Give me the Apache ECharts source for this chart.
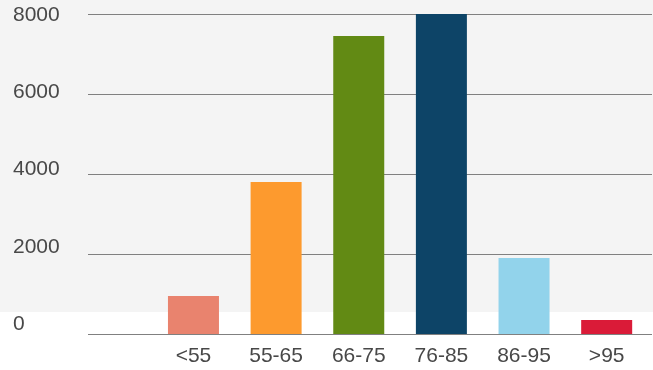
<!DOCTYPE html>
<html>
<head>
<meta charset="utf-8">
<script src="https://cdn.jsdelivr.net/npm/echarts@6/dist/echarts.min.js"></script>
<style>
  html, body { margin: 0; padding: 0; background: #fff; }
  #chart {
    width: 653px; height: 370px;
    background: linear-gradient(#f4f4f4 0, #f4f4f4 312px, #fff 312px, #fff 370px);
  }
</style>
</head>
<body>
<div id="chart"></div>
<script>
var categories = ['', '<55', '55-65', '66-75', '76-85', '86-95', '>95'];
var counts = [null, 950, 3800, 7450, 8000, 1900, 350];
var barColors = ['#ffffff', '#e9836e', '#fd9a2e', '#628a14', '#0d4467', '#92d3eb', '#da1b38'];
var yTicks = [0, 2000, 4000, 6000, 8000];

var chart = echarts.init(document.getElementById('chart'));
var fontFam = '"Liberation Sans", Arial, Helvetica, sans-serif';
var yMin = yTicks[0], yMax = yTicks[yTicks.length - 1];

var option = {
    backgroundColor: 'transparent',
    animation: false,
    grid: [
        // gridlines
        { left: 88, right: 1, top: 14, bottom: 36 },
        // bars, band starts a bit left of the gridlines
        { left: 69.5, right: 5, top: 14, bottom: 36 },
        // y labels sit a little tighter than the lines
        { left: 88, right: 1, top: 15, bottom: 46 }
    ],
    xAxis: [
        { gridIndex: 0, type: 'category', data: ['a'], show: false },
        {
            gridIndex: 1,
            type: 'category',
            data: categories,
            axisLine: { show: false },
            axisTick: { show: false },
            axisLabel: {
                interval: 0,
                margin: 12,
                fontSize: 21,
                fontFamily: fontFam,
                color: '#484848'
            }
        },
        { gridIndex: 2, type: 'category', data: ['a'], show: false }
    ],
    yAxis: [
        {
            gridIndex: 0,
            type: 'value',
            min: yMin,
            max: yMax,
            interval: 2000,
            axisLine: { show: false },
            axisTick: { show: false },
            axisLabel: { show: false },
            splitLine: { lineStyle: { color: '#808080', width: 1 } }
        },
        {
            gridIndex: 1,
            type: 'value',
            min: yMin,
            max: yMax,
            show: false,
            splitLine: { show: false }
        },
        {
            gridIndex: 2,
            type: 'value',
            min: yMin,
            max: yMax,
            interval: 2000,
            axisLine: { show: false },
            axisTick: { show: false },
            splitLine: { show: false },
            axisLabel: {
                align: 'left',
                verticalAlign: 'middle',
                margin: 75,
                fontSize: 21,
                fontFamily: fontFam,
                color: '#484848',
                formatter: function (v) { return String(v); }
            }
        }
    ],
    series: [{
        type: 'bar',
        xAxisIndex: 1,
        yAxisIndex: 1,
        barWidth: 51,
        z: 5,
        data: counts.map(function (v, i) {
            return { value: v, itemStyle: { color: barColors[i] } };
        })
    }]
};
chart.setOption(option);
</script>
</body>
</html>
